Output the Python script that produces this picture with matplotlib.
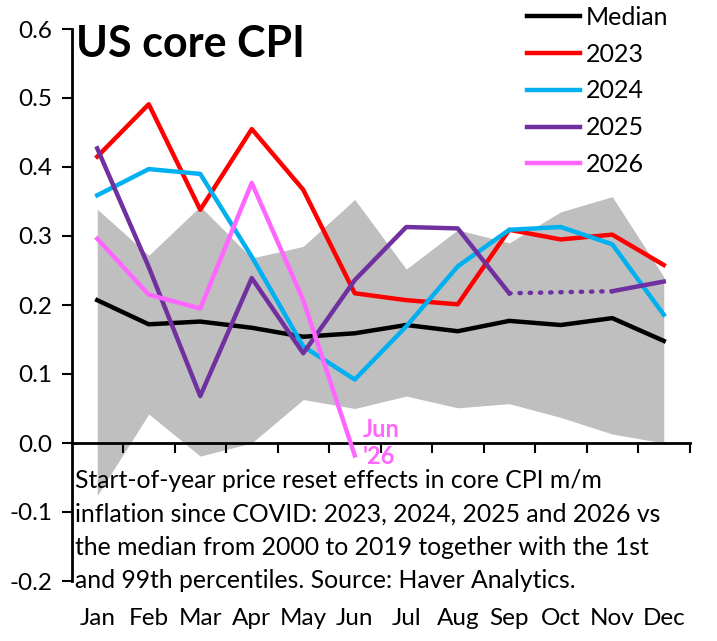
import numpy as np
import matplotlib.pyplot as plt
from matplotlib.ticker import FormatStrFormatter, FixedLocator

plt.rcParams['font.family'] = ['Lato', 'DejaVu Sans']
plt.rcParams['axes.unicode_minus'] = False

months = ["Jan", "Feb", "Mar", "Apr", "May", "Jun", "Jul", "Aug", "Sep", "Oct", "Nov", "Dec"]
median = [0.207, 0.172, 0.176, 0.167, 0.154, 0.159, 0.171, 0.162, 0.177, 0.171, 0.181, 0.148]
p99 = [0.339, 0.272, 0.343, 0.268, 0.285, 0.353, 0.252, 0.309, 0.290, 0.335, 0.357, 0.241]
p01 = [-0.076, 0.042, -0.019, 0.000, 0.063, 0.050, 0.068, 0.051, 0.057, 0.037, 0.013, 0.000]
y2023 = [0.415, 0.491, 0.338, 0.455, 0.367, 0.217, 0.207, 0.201, 0.309, 0.295, 0.302, 0.258]
y2024 = [0.359, 0.397, 0.390, 0.270, 0.140, 0.092, 0.169, 0.256, 0.309, 0.313, 0.288, 0.186]
y2025 = [0.427, 0.255, 0.068, 0.239, 0.130, 0.236, 0.313, 0.311, 0.217, None, 0.220, 0.234]
y2026 = [0.296, 0.215, 0.195, 0.377, 0.207, -0.018]

x = np.arange(len(months))

fig = plt.figure(figsize=(7.17, 6.41), dpi=100)
ax = fig.add_axes([71.5/717, 60/641, 618/717, 552/641])

ax.fill_between(x, p01, p99, color='#BFBFBF', lw=0, zorder=1)

lw = 3.2
ax.plot(x, median, color='black', lw=lw, label='Median', zorder=3)
ax.plot(x, y2023, color='#FF0000', lw=lw, label='2023', zorder=3)
ax.plot(x, y2024, color='#00B0F0', lw=lw, label='2024', zorder=3)
# 2025: solid where data exist, dotted across the missing October
a25 = np.array([np.nan if v is None else v for v in y2025], dtype=float)
ax.plot(x[:9], a25[:9], color='#7030A0', lw=lw, label='2025', zorder=3)
ax.plot(x[10:], a25[10:], color='#7030A0', lw=lw, zorder=3)
ax.plot([x[8], x[10]], [a25[8], a25[10]], color='#7030A0', lw=lw,
        ls=(0, (0.3, 2.0)), dash_capstyle='round', zorder=3)
ax.plot(x[:len(y2026)], y2026, color='#FF66FF', lw=lw, label='2026', zorder=4)

ax.text(x[5] + 0.15, 0.0, "Jun\n'26", color='#FF66FF', fontsize=17, fontweight='bold',
        ha='left', va='center', linespacing=1.2, zorder=5)

ax.set_xlim(-0.5, 11.5)
ax.set_ylim(-0.2, 0.6)
ax.set_yticks(np.arange(-0.2, 0.61, 0.1))
ax.yaxis.set_major_formatter(FormatStrFormatter('%.1f'))
ax.tick_params(axis='y', direction='out', length=7, width=1.5, labelsize=17.5, pad=7)

ax.spines['top'].set_visible(False)
ax.spines['right'].set_visible(False)
ax.spines['left'].set_linewidth(2)
ax.spines['bottom'].set_position(('data', 0))
ax.spines['bottom'].set_linewidth(2)
ax.xaxis.set_major_locator(FixedLocator(np.arange(0.5, 11.6, 1.0)))
ax.xaxis.set_ticklabels([])
ax.tick_params(axis='x', direction='out', length=7, width=1.5)

for i, m in enumerate(months):
    ax.text(x[i], -0.255, m, ha='center', va='center', fontsize=17.5)

fig.text(76/717, 1 - 57/641, "US core CPI", fontsize=31, fontweight='bold', ha='left', va='baseline')

note = ["Start-of-year price reset effects in core CPI m/m",
        "inflation since COVID: 2023, 2024, 2025 and 2026 vs",
        "the median from 2000 to 2019 together with the 1st",
        "and 99th percentiles. Source: Haver Analytics."]
for k, line in enumerate(note):
    fig.text(75/717, 1 - (488 + 33.3*k)/641, line, fontsize=17.8, ha='left', va='baseline')

ax.legend(loc='upper left', bbox_to_anchor=(527/717, 1 - 6/641), bbox_transform=fig.transFigure,
          frameon=False, fontsize=18, handlelength=2.1, handletextpad=0.25,
          labelspacing=0.55, borderpad=0, borderaxespad=0)

fig.savefig('out.png', dpi=100)
